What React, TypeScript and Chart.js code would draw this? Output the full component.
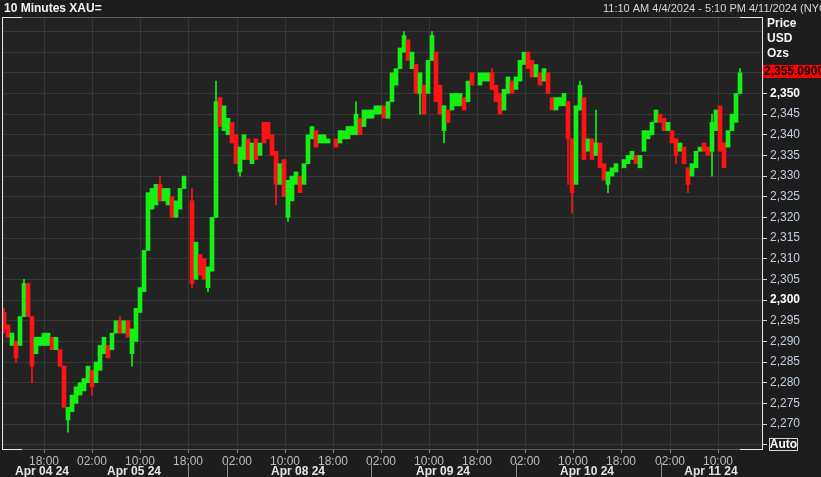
import React, { useEffect, useRef } from 'react';
import { Chart, registerables } from 'chart.js';

Chart.register(...registerables);

// 40-minute buckets (4 x 10-minute bars), body range low/high, direction g/r
const lows: (number | null)[] = [
  2293, 2291, 2289, 2286, 2289, 2296, 2296, 2284, 2287, 2289,
  2289, 2289, 2288, 2288, 2284, 2274, 2271, 2273, 2275, 2277,
  2278, 2280, 2279, 2280, 2283, 2287, 2286, 2288, 2292, 2292,
  2292, 2291, 2287, 2290, 2297, 2302, 2312, 2322, 2323, 2324,
  2324, 2323, 2320, 2320, 2322, 2327, null, 2304, 2305, 2306,
  2305, 2303, 2307, 2320, 2342, 2341, 2340, 2338, 2333, 2331,
  2334, 2334, 2333, 2334, 2335, 2338, 2339, 2335, 2328, 2328,
  2325, 2320, 2324, 2328, 2326, 2328, 2333, 2339, 2337, 2338,
  2338, 2338, null, 2337, 2338, 2339, 2339, 2340, 2340, 2340,
  2342, 2344, 2344, 2345, 2345, 2344, 2344, 2348, 2352, 2356,
  2360, 2358, 2356, 2350, 2350, 2345, 2350, 2358, 2348, 2345,
  2341, 2343, 2346, 2347, 2347, 2346, 2348, 2352, null, 2352,
  2353, 2353, 2351, 2348, 2345, 2346, 2350, 2350, 2351, 2353,
  2357, 2356, 2354, 2354, 2352, 2353, 2350, 2346, 2346, 2347,
  2347, 2339, 2326, 2328, 2346, 2334, 2336, 2334, 2335, 2332,
  2329, 2328, 2330, 2331, null, 2332, 2333, 2334, 2333, 2332,
  2336, 2339, 2340, 2343, 2343, 2341, 2341, 2338, 2335, 2336,
  2333, 2328, 2330, 2332, 2336, 2336, 2335, 2336, 2341, 2336,
  2332, 2337, 2341, 2343, 2350,
];
const highs: (number | null)[] = [
  2297, 2294, 2292, 2290, 2296, 2304, 2304, 2296, 2291, 2291,
  2292, 2292, 2291, 2291, 2288, 2284, 2274, 2277, 2279, 2280,
  2281, 2284, 2283, 2285, 2289, 2291, 2289, 2292, 2295, 2295,
  2295, 2295, 2293, 2298, 2303, 2312, 2326, 2327, 2328, 2328,
  2327, 2327, 2325, 2324, 2327, 2330, null, 2324, 2314, 2311,
  2310, 2308, 2320, 2348, 2349, 2347, 2344, 2343, 2340, 2337,
  2340, 2339, 2338, 2339, 2338, 2343, 2343, 2340, 2336, 2333,
  2334, 2329, 2330, 2331, 2330, 2333, 2340, 2342, 2341, 2340,
  2340, 2339, null, 2339, 2341, 2341, 2342, 2342, 2345, 2344,
  2346, 2346, 2346, 2347, 2347, 2347, 2348, 2355, 2356, 2361,
  2364, 2363, 2360, 2357, 2355, 2352, 2358, 2364, 2360, 2352,
  2347, 2346, 2350, 2350, 2350, 2349, 2353, 2355, null, 2355,
  2355, 2355, 2355, 2352, 2350, 2351, 2354, 2353, 2354, 2358,
  2360, 2360, 2358, 2357, 2355, 2356, 2355, 2349, 2349, 2349,
  2350, 2348, 2339, 2347, 2352, 2349, 2339, 2339, 2338, 2338,
  2333, 2331, 2332, 2333, null, 2334, 2335, 2336, 2335, 2335,
  2341, 2341, 2343, 2346, 2345, 2344, 2343, 2341, 2339, 2338,
  2337, 2332, 2333, 2336, 2337, 2338, 2337, 2343, 2346, 2347,
  2338, 2341, 2345, 2350, 2355,
];
const dirs =
  'rrgrggrrgg' + 'ggrgrrgggg' + 'ggrgggrggr' + 'grgggggggr' +
  'ggrggg-rgr' + 'rgggrggrrg' + 'grgrgrrrrg' + 'rgggrgggrg' +
  'gg-rgggggr' + 'gggggrgggg' + 'grgrgrggrr' + 'grgggrgr-g' +
  'ggrrrggrgg' + 'grrgrgrrgg' + 'grrggrgrgr' + 'rggg-gggrg' +
  'ggggrrgrrg' + 'rrgggrrggr' + 'rgggg';
// wick extents [bucket, low, high]
const spikes: [number, number, number][] = [
  [0, 2292, 2298], [3, 2285, 2290], [5, 2296, 2305], [7, 2280, 2296],
  [16, 2268, 2274], [22, 2277, 2283], [29, 2292, 2296], [32, 2284, 2293],
  [39, 2324, 2330], [47, 2303, 2327], [51, 2302, 2308], [53, 2320, 2353],
  [59, 2330, 2337], [68, 2323, 2336], [71, 2319, 2329], [88, 2340, 2348],
  [100, 2360, 2365], [104, 2345, 2355], [107, 2358, 2365], [110, 2338, 2347],
  [122, 2351, 2356], [141, 2328, 2348], [142, 2321, 2339], [144, 2346, 2353],
  [148, 2335, 2346], [151, 2326, 2331], [168, 2333, 2339], [171, 2326, 2332],
  [177, 2330, 2345], [184, 2350, 2356],
];

const timeTickPos = [42, 90, 138, 186, 235, 283, 331, 379, 427, 475, 523, 571, 619, 668, 716];
const timeTickLabels = ['18:00', '02:00', '10:00', '18:00', '02:00', '10:00', '18:00', '02:00', '10:00', '18:00', '02:00', '10:00', '18:00', '02:00', '10:00'];
const dateLabels = ['Apr 04 24', 'Apr 05 24', 'Apr 08 24', 'Apr 09 24', 'Apr 10 24', 'Apr 11 24'];
const datePos = [40, 132, 296, 441, 585, 709];
const daySeparators = [186, 225, 369, 514, 659];
const priceTicks = [2265, 2270, 2275, 2280, 2285, 2290, 2295, 2300, 2305, 2310, 2315, 2320, 2325, 2330, 2335, 2340, 2345, 2350, 2355, 2360, 2365];
const lastPrice = 2355.09;
const lastPriceText = '2,355.0900';
const titleLeft = '10 Minutes XAU=';
const titleRight = '11:10 AM 4/4/2024 - 5:10 PM 4/11/2024 (NYC)';
const unitLabels = ['Price', 'USD', 'Ozs'];
const yMin = 2263.95;
const yMax = 2368.5;

const GREEN = '#14f014';
const RED = '#ff1414';
const SANS = "'Liberation Sans', Arial, sans-serif";

export default function App() {
  const ref = useRef<HTMLCanvasElement | null>(null);

  useEffect(() => {
    document.body.style.margin = '0';
    document.body.style.background = '#1d1d1d';
    const canvas = ref.current;
    if (!canvas) return;

    const body: any[] = [];
    lows.forEach((lo, k) => {
      const hi = highs[k];
      if (lo == null || hi == null) return;
      body.push({ x: 4 * k + 2, y: [lo, hi], c: dirs[k] });
    });
    const wicks = spikes.map(([k, lo, hi]) => ({ x: 4 * k + 2, y: [lo, hi], c: dirs[k] }));
    const colorOf = (ctx: any) => (ctx.raw && ctx.raw.c === 'r' ? RED : GREEN);

    const chrome = {
      id: 'chrome',
      beforeDraw(chart: any) {
        const { ctx, chartArea: a } = chart;
        ctx.save();
        ctx.fillStyle = '#1d1d1d';
        ctx.fillRect(0, 0, chart.width, chart.height);
        ctx.fillStyle = '#232323';
        ctx.fillRect(a.left, a.top, a.right - a.left, a.bottom - a.top);
        ctx.restore();
      },
      afterDraw(chart: any) {
        const { ctx, chartArea: a } = chart;
        const ys = chart.scales.y;
        const xs = chart.scales.x;
        ctx.save();
        // header
        ctx.textBaseline = 'middle';
        ctx.textAlign = 'left';
        ctx.fillStyle = '#f2f2f2';
        ctx.font = `bold 12px ${SANS}`;
        ctx.fillText(titleLeft, 4, 9);
        ctx.fillStyle = '#d6d6d6';
        ctx.font = `11px ${SANS}`;
        ctx.fillText(titleRight, 603, 9);
        // frame
        ctx.strokeStyle = '#5c5c5c';
        ctx.lineWidth = 1;
        ctx.beginPath();
        ctx.moveTo(a.left, a.top + 0.5);
        ctx.lineTo(a.right, a.top + 0.5);
        ctx.stroke();
        ctx.strokeStyle = '#e8e8e8';
        ctx.beginPath();
        ctx.moveTo(a.left + 0.5, a.top);
        ctx.lineTo(a.left + 0.5, a.bottom);
        ctx.moveTo(a.left, a.top + 0.5);
        ctx.lineTo(a.left + 20, a.top + 0.5);
        ctx.moveTo(a.right - 22, a.top + 0.5);
        ctx.lineTo(a.right, a.top + 0.5);
        ctx.moveTo(a.left, a.bottom + 0.5);
        ctx.lineTo(a.left + 20, a.bottom + 0.5);
        ctx.moveTo(a.right - 22, a.bottom + 0.5);
        ctx.lineTo(a.right, a.bottom + 0.5);
        ctx.stroke();
        // unit labels
        ctx.fillStyle = '#f4f4f4';
        ctx.font = `bold 12px ${SANS}`;
        unitLabels.forEach((t, i) => ctx.fillText(t, 767, 24 + i * 15));
        // last price tag
        const py = Math.round(ys.getPixelForValue(lastPrice));
        ctx.fillStyle = '#ff0000';
        ctx.fillRect(a.right + 1, py - 7, chart.width - a.right, 13);
        ctx.fillStyle = '#000000';
        ctx.font = `bold 12px ${SANS}`;
        ctx.fillText(lastPriceText, a.right + 2, py);
        // Auto box
        const ay = Math.round(ys.getPixelForValue(priceTicks[0]));
        ctx.strokeStyle = '#d8d8d8';
        ctx.strokeRect(769.5, ay - 6.5, 28, 12);
        ctx.fillStyle = '#ffffff';
        ctx.textAlign = 'center';
        ctx.fillText('Auto', 783.5, ay);
        // date row
        ctx.fillStyle = '#e4e4e4';
        ctx.font = `bold 12px ${SANS}`;
        dateLabels.forEach((t, i) => ctx.fillText(t, xs.getPixelForValue(datePos[i]), 472));
        ctx.strokeStyle = '#8c8c8c';
        ctx.beginPath();
        daySeparators.forEach((p) => {
          const x = Math.round(xs.getPixelForValue(p)) + 0.5;
          ctx.moveTo(x, 463);
          ctx.lineTo(x, 477);
        });
        ctx.stroke();
        ctx.restore();
      },
    };

    const chart = new Chart(canvas, {
      type: 'bar',
      data: {
        datasets: [
          {
            data: wicks as any,
            backgroundColor: colorOf,
            barThickness: 1,
            grouped: false,
            order: 2,
            borderWidth: 0,
          } as any,
          {
            data: body as any,
            backgroundColor: colorOf,
            barThickness: 4,
            grouped: false,
            order: 1,
            borderWidth: 0,
          } as any,
        ],
      },
      options: {
        animation: false,
        responsive: false,
        devicePixelRatio: 1,
        layout: { padding: { left: 2, top: 17, right: 0, bottom: 0 } },
        plugins: { legend: { display: false }, tooltip: { enabled: false } },
        scales: {
          x: {
            type: 'linear',
            offset: false,
            min: 0,
            max: 760,
            afterBuildTicks: (s: any) => {
              s.ticks = timeTickPos.map((v) => ({ value: v }));
            },
            afterFit: (s: any) => {
              s.height = 28;
            },
            ticks: {
              autoSkip: false,
              maxRotation: 0,
              padding: 1,
              color: '#bcbcbc',
              font: { family: SANS, size: 12 },
              callback: (_v: any, i: number) => timeTickLabels[i],
            },
            grid: { offset: false, color: '#373737', tickColor: '#8a8a8a', tickLength: 4 },
            border: { color: '#5c5c5c' },
          },
          y: {
            type: 'linear',
            position: 'right',
            min: yMin,
            max: yMax,
            afterBuildTicks: (s: any) => {
              s.ticks = priceTicks.map((v) => ({ value: v }));
            },
            afterFit: (s: any) => {
              s.width = 59;
            },
            ticks: {
              padding: 3,
              color: (c: any) => (c.tick && c.tick.value % 50 === 0 ? '#ffffff' : '#c4cedf'),
              font: (c: any) => ({
                family: SANS,
                size: 12,
                weight: c.tick && c.tick.value % 50 === 0 ? 'bold' : 'normal',
              }),
              callback: (v: any) => (v > 2350 || v < 2270 ? '' : Number(v).toLocaleString('en-US')),
            },
            grid: {
              color: '#373737',
              tickLength: 5,
              tickColor: (c: any) => (c.tick && c.tick.value > 2350 ? 'rgba(0,0,0,0)' : '#d8d8d8'),
            },
            border: { color: '#e8e8e8' },
          },
        },
      } as any,
      plugins: [chrome],
    });
    return () => chart.destroy();
  }, []);

  return (
    <div style={{ width: 821, height: 477 }}>
      <canvas ref={ref} width={821} height={477} style={{ display: 'block' }} />
    </div>
  );
}
